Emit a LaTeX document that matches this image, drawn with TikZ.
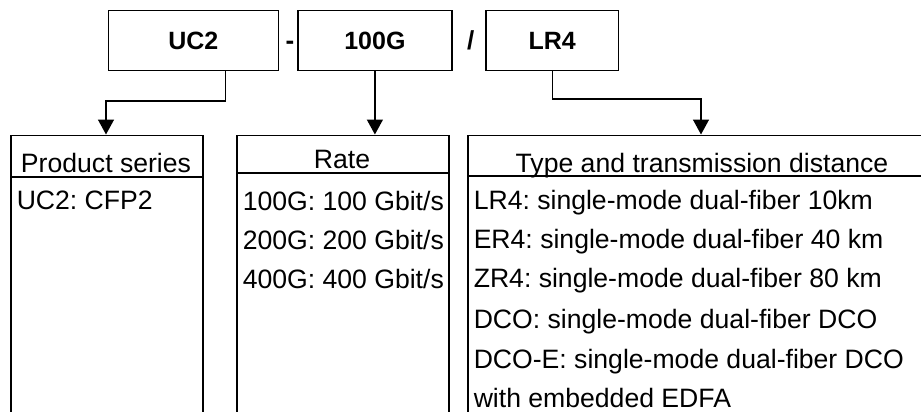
\documentclass[tikz,border=0pt]{standalone}
\usepackage{fontspec}
\setmainfont{Liberation Sans}
\usetikzlibrary{arrows.meta,calc}
\frenchspacing
\begin{document}
\begin{tikzpicture}[x=1pt,y=-1pt,line width=1.5pt,
  topbox/.style={draw,minimum height=60pt,inner sep=0pt,font=\fontsize{25}{30}\selectfont\bfseries},
  listbox/.style={draw,anchor=north west,inner sep=0pt},
  hdr/.style={anchor=base,inner sep=0pt,font=\fontsize{26.6}{30}\selectfont},
  item/.style={anchor=base west,inner sep=0pt,font=\fontsize{26.6}{30}\selectfont},
  sep/.style={anchor=base,inner sep=0pt,font=\fontsize{26}{30}\selectfont\bfseries},
  arr/.style={-{Triangle[width=16pt,length=15pt]},line width=1.5pt}]
\useasboundingbox (0,0) rectangle (921,412);
\clip (0,0) rectangle (921,412);
% top boxes
\node[topbox,minimum width=170pt] (uc2) at (193.3,40.7) {UC2};
\node[topbox,minimum width=153.7pt] (g100) at (374.9,40.7) {100G};
\node[topbox,minimum width=132.3pt] (lr4) at (552.2,40.7) {LR4};
\node[sep] (dash) at (290,50) {-};
\node[sep] (slash) at (470.7,50) {/};
% bottom boxes
\node[listbox,minimum width=192pt,minimum height=320pt] (prod) at (10,134.5) {};
\node[listbox,minimum width=212pt,minimum height=320pt] (rate) at (236,134.5) {};
\node[listbox,minimum width=480pt,minimum height=320pt] (type) at (467.3,134.5) {};
% header separators
\draw ($(prod.north west)+(0,42.5)$) -- ($(prod.north east)+(0,42.5)$);
\draw ($(rate.north west)+(0,38.5)$) -- ($(rate.north east)+(0,38.5)$);
\draw ($(type.north west)+(0,41.5)$) -- ($(type.north east)+(0,41.5)$);
% headers
\node[hdr] (hp) at (106,172.7) {Product series};
\node[hdr] (hr) at (342,168.3) {Rate};
\node[hdr] (ht) at (702,172.3) {Type and transmission distance};
% items
\node[item] (p1) at (16,209.3) {UC2: CFP2};
\node[item] (r1) at (242,210) {100G: 100 Gbit/s};
\node[item] (r2) at (242,249.3) {200G: 200 Gbit/s};
\node[item] (r3) at (242,288.3) {400G: 400 Gbit/s};
\node[item] (t1) at (473,209.3) {LR4: single-mode dual-fiber 10km};
\node[item] (t2) at (473,248.7) {ER4: single-mode dual-fiber 40 km};
\node[item] (t3) at (473,287.7) {ZR4: single-mode dual-fiber 80 km};
\node[item] (t4) at (473,328.3) {DCO: single-mode dual-fiber DCO};
\node[item] (t5) at (473,368.3) {DCO-E: single-mode dual-fiber DCO};
\node[item] (t6) at (473,407.3) {with embedded EDFA};
% connectors
\coordinate (a1) at (225.7,101);
\coordinate (a2) at (106,101);
\coordinate (b1) at (552.3,99);
\coordinate (b2) at (701,99);
\draw[arr] (uc2.south -| a1) -- (a1) -- (a2) -- (prod.north -| a2);
\draw[arr] (g100.south) -- (rate.north -| g100.south);
\draw[arr] (lr4.south -| b1) -- (b1) -- (b2) -- (type.north -| b2);
\end{tikzpicture}
\end{document}
